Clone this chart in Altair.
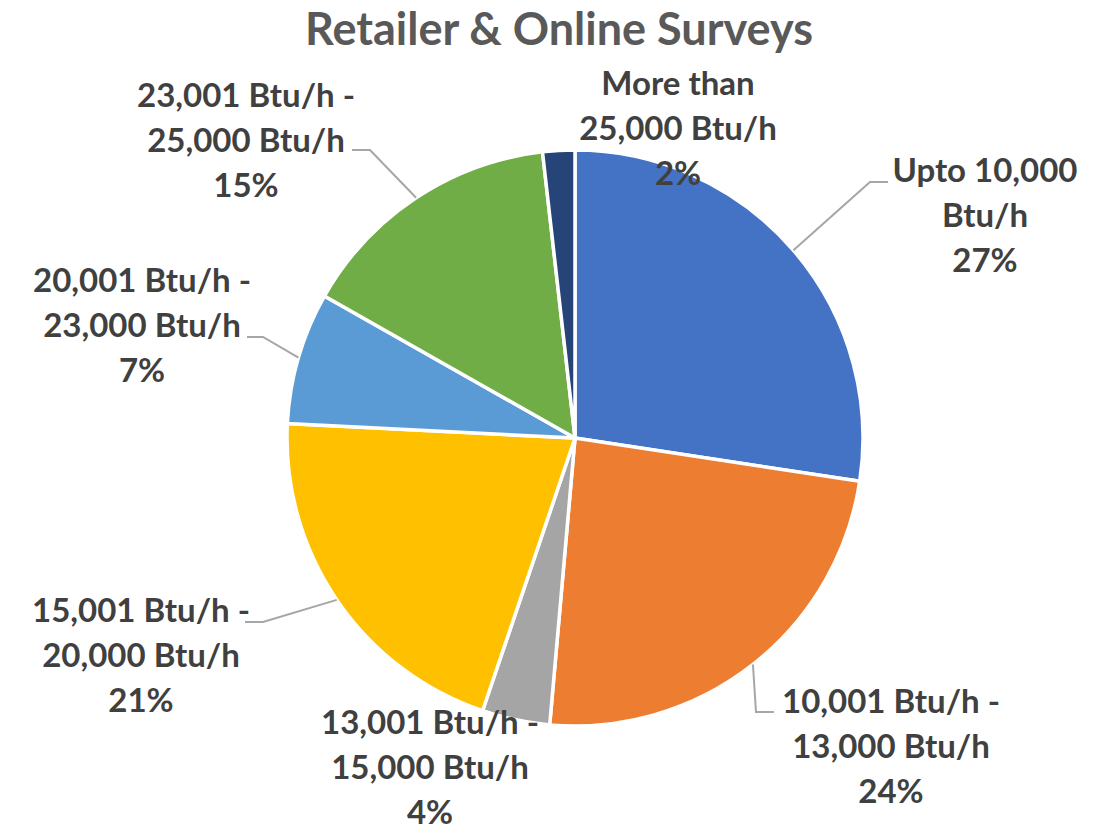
import altair as alt
import numpy as np
import pandas as pd

# ---------------- data ----------------
TITLE = "Retailer & Online Surveys"
CATEGORIES = [
    "Upto 10,000 Btu/h",
    "10,001 Btu/h - 13,000 Btu/h",
    "13,001 Btu/h - 15,000 Btu/h",
    "15,001 Btu/h - 20,000 Btu/h",
    "20,001 Btu/h - 23,000 Btu/h",
    "23,001 Btu/h - 25,000 Btu/h",
    "More than 25,000 Btu/h",
]
LABEL_LINES = [
    ["Upto 10,000", "Btu/h"],
    ["10,001 Btu/h -", "13,000 Btu/h"],
    ["13,001 Btu/h -", "15,000 Btu/h"],
    ["15,001 Btu/h -", "20,000 Btu/h"],
    ["20,001 Btu/h -", "23,000 Btu/h"],
    ["23,001 Btu/h -", "25,000 Btu/h"],
    ["More than", "25,000 Btu/h"],
]
SHARES = [27.4, 24.0, 3.8, 20.6, 7.4, 15.0, 1.8]
COLORS = ["#4472C4", "#ED7D31", "#A5A5A5", "#FFC000", "#5B9BD5", "#70AD47", "#264478"]

# ---------------- layout ----------------
CX, CY, R = 567, 430, 288
# position of the first line of each label (centre)
LABEL_XY = [(977, 164), (883, 695), (422, 716), (133, 604), (134, 274), (238, 89), (670, 77)]
LEADER_BENDS = {
    0: [(862, 174), (880, 174)],
    1: [(748, 704), (766, 704)],
    3: [(255, 614), (237, 614)],
    4: [(255, 329), (239, 329)],
    5: [(362, 142), (344, 142)],
}
FONT = "Lato"

shares = np.array(SHARES)
total = shares.sum()
cum = np.cumsum(shares)
mid = (cum - shares / 2) / total * 2 * np.pi

df = pd.DataFrame({
    "category": CATEGORIES,
    "share": SHARES,
    "idx": list(range(len(CATEGORIES))),
})

labels = []
for i, lines in enumerate(LABEL_LINES):
    pct = f"{round(SHARES[i] / total * 100)}%"
    labels.append({
        "label": "\n".join(lines + [pct]),
        "lx": LABEL_XY[i][0],
        "ly": LABEL_XY[i][1],
    })
tdf = pd.DataFrame(labels)

rows = []
for i, bends in LEADER_BENDS.items():
    ex = CX + R * np.sin(mid[i])
    ey = CY - R * np.cos(mid[i])
    pts = [(ex, ey)] + bends
    for k, (px, py) in enumerate(pts):
        rows.append({"idx": i, "step": k, "px": float(px), "py": float(py)})
ldf = pd.DataFrame(rows)

pie = alt.Chart(df).mark_arc(
    outerRadius=R, stroke="white", strokeWidth=3.5
).encode(
    theta=alt.Theta("share:Q", stack=True),
    color=alt.Color("category:N", scale=alt.Scale(domain=CATEGORIES, range=COLORS), legend=None),
    order=alt.Order("idx:Q"),
    x=alt.value(CX),
    y=alt.value(CY),
)

leaders = alt.Chart(ldf).mark_line(color="#A6A6A6", strokeWidth=2).encode(
    x=alt.X("px:Q", scale=None, axis=None),
    y=alt.Y("py:Q", scale=None, axis=None),
    detail="idx:N",
    order="step:Q",
)

text = alt.Chart(tdf).mark_text(
    font=FONT, fontWeight="bold", fontSize=33, lineHeight=45,
    color="#404040", align="center", baseline="middle", lineBreak="\n",
).encode(
    x=alt.X("lx:Q", scale=None, axis=None),
    y=alt.Y("ly:Q", scale=None, axis=None),
    text="label:N",
)

title = alt.Chart(pd.DataFrame({"t": [TITLE]})).mark_text(
    font=FONT, fontWeight="bold", fontSize=45, color="#595959",
    align="center", baseline="alphabetic",
).encode(
    x=alt.value(551),
    y=alt.value(37),
    text="t:N",
)

chart = alt.layer(pie, leaders, text, title).properties(
    width=1090, height=819,
    autosize=alt.AutoSizeParams(type="none"),
    padding=0,
).configure_view(stroke=None)

chart.save("out.html", embed_options={"renderer": "svg", "actions": False})
